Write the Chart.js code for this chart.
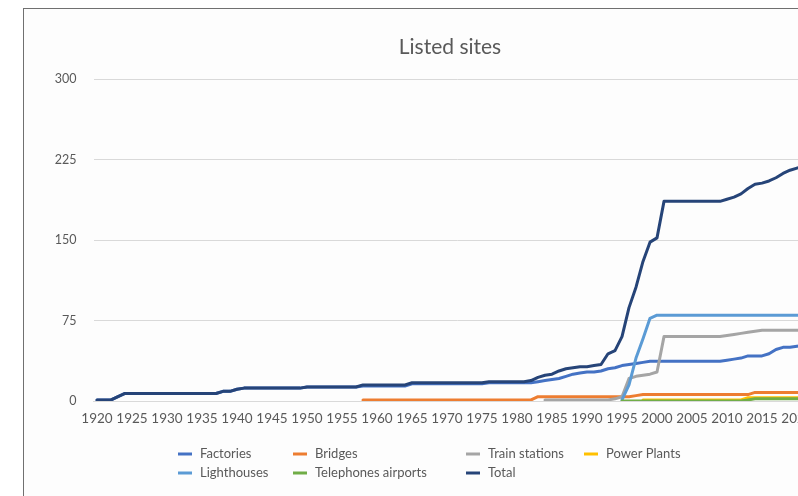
<!DOCTYPE html>
<html>
<head>
<meta charset="utf-8">
<title>Listed sites</title>
<script src="https://cdn.jsdelivr.net/npm/chart.js@4.4.0/dist/chart.umd.min.js"></script>
<style>
  html, body { margin: 0; padding: 0; background: #ffffff; width: 798px; height: 496px; overflow: hidden; }
  #frame { position: absolute; left: 23px; top: 8px; width: 852px; height: 520px;
           border: 1px solid #707070; background: #fdfdfd; }
  #chart { display: block; }
</style>
</head>
<body>
<div id="frame"><canvas id="chart" width="852" height="520"></canvas></div>
<script>
// ---- chart text ----
const chartTitle = 'Listed sites';
const yearTicks = [1920, 1925, 1930, 1935, 1940, 1945, 1950, 1955, 1960, 1965, 1970,
                   1975, 1980, 1985, 1990, 1995, 2000, 2005, 2010, 2015, 2020];
const valueTicks = [0, 75, 150, 225, 300];

// ---- cumulative number of listed sites per year (first year given with each list) ----
const factoriesFrom = 1920;
const factories = [
  1, 1, 1, 4, 7, 7, 7, 7, 7, 7,            // 1920-1929
  7, 7, 7, 7, 7, 7, 7, 7, 9, 9,            // 1930-1939
  11, 12, 12, 12, 12, 12, 12, 12, 12, 12,  // 1940-1949
  13, 13, 13, 13, 13, 13, 13, 13, 14, 14,  // 1950-1959
  14, 14, 14, 14, 14, 16, 16, 16, 16, 16,  // 1960-1969
  16, 16, 16, 16, 16, 16, 17, 17, 17, 17,  // 1970-1979
  17, 17, 17, 18, 19, 20, 21, 23, 25, 26,  // 1980-1989
  27, 27, 28, 30, 31, 33, 34, 35, 36, 37,  // 1990-1999
  37, 37, 37, 37, 37, 37, 37, 37, 37, 37,  // 2000-2009
  38, 39, 40, 42, 42, 42, 44, 48, 50, 50,  // 2010-2019
  51, 52                                   // 2020-2021
];

const bridgesFrom = 1958;
const bridges = [
  1, 1,                                    // 1958-1959
  1, 1, 1, 1, 1, 1, 1, 1, 1, 1,            // 1960-1969
  1, 1, 1, 1, 1, 1, 1, 1, 1, 1,            // 1970-1979
  1, 1, 1, 4, 4, 4, 4, 4, 4, 4,            // 1980-1989
  4, 4, 4, 4, 4, 4, 4, 5, 6, 6,            // 1990-1999
  6, 6, 6, 6, 6, 6, 6, 6, 6, 6,            // 2000-2009
  6, 6, 6, 6, 8, 8, 8, 8, 8, 8,            // 2010-2019
  8, 8                                     // 2020-2021
];

const trainStationsFrom = 1984;
const trainStations = [
  1, 1, 1, 1, 1, 1,                        // 1984-1989
  1, 1, 1, 1, 2, 4, 21, 23, 24, 25,        // 1990-1999
  27, 60, 60, 60, 60, 60, 60, 60, 60, 60,  // 2000-2009
  61, 62, 63, 64, 65, 66, 66, 66, 66, 66,  // 2010-2019
  66, 66                                   // 2020-2021
];

const powerPlantsFrom = 1998;
const powerPlants = [
  1, 1,                                    // 1998-1999
  1, 1, 1, 1, 1, 1, 1, 1, 1, 1,            // 2000-2009
  1, 1, 1, 3, 3, 3, 3, 3, 3, 3,            // 2010-2019
  3, 3                                     // 2020-2021
];

const lighthousesFrom = 1995;
const lighthouses = [
  1, 15, 40, 58, 77,                       // 1995-1999
  80, 80, 80, 80, 80, 80, 80, 80, 80, 80,  // 2000-2009
  80, 80, 80, 80, 80, 80, 80, 80, 80, 80,  // 2010-2019
  80, 80                                   // 2020-2021
];

const telephonesAirportsFrom = 1995;
const telephonesAirports = [
  0, 0, 0, 0, 0,                           // 1995-1999
  0, 0, 0, 0, 0, 0, 0, 0, 0, 0,            // 2000-2009
  0, 0, 0, 1, 2, 2, 2, 2, 2, 2,            // 2010-2019
  2, 2                                     // 2020-2021
];

const totalFrom = 1920;
const total = [
  1, 1, 1, 4, 7, 7, 7, 7, 7, 7,                   // 1920-1929
  7, 7, 7, 7, 7, 7, 7, 7, 9, 9,                   // 1930-1939
  11, 12, 12, 12, 12, 12, 12, 12, 12, 12,         // 1940-1949
  13, 13, 13, 13, 13, 13, 13, 13, 15, 15,         // 1950-1959
  15, 15, 15, 15, 15, 17, 17, 17, 17, 17,         // 1960-1969
  17, 17, 17, 17, 17, 17, 18, 18, 18, 18,         // 1970-1979
  18, 18, 19, 22, 24, 25, 28, 30, 31, 32,         // 1980-1989
  32, 33, 34, 44, 47, 60, 87, 106, 130, 148,      // 1990-1999
  152, 186, 186, 186, 186, 186, 186, 186, 186, 186, // 2000-2009
  188, 190, 193, 198, 202, 203, 205, 208, 212, 215, // 2010-2019
  217, 218                                        // 2020-2021
];

// ---- series definitions (legend order) ----
const seriesList = [
  { label: 'Factories',           from: factoriesFrom,          values: factories,          color: '#4472C4' },
  { label: 'Bridges',             from: bridgesFrom,            values: bridges,            color: '#ED7D31' },
  { label: 'Train stations',      from: trainStationsFrom,      values: trainStations,      color: '#A5A5A5' },
  { label: 'Power Plants',        from: powerPlantsFrom,        values: powerPlants,        color: '#FFC000' },
  { label: 'Lighthouses',         from: lighthousesFrom,        values: lighthouses,        color: '#5B9BD5' },
  { label: 'Telephones airports', from: telephonesAirportsFrom, values: telephonesAirports, color: '#70AD47' },
  { label: 'Total',               from: totalFrom,              values: total,              color: '#264478' }
];

const FONT = 'Lato, "Open Sans", "DejaVu Sans", sans-serif';
const TEXT_COLOR = '#595959';

const datasets = seriesList.map((s, i) => ({
  label: s.label,
  data: s.values.map((v, k) => ({ x: s.from + k, y: v })),
  borderColor: s.color,
  backgroundColor: s.color,
  borderWidth: 3,
  borderJoinStyle: 'round',
  borderCapStyle: 'round',
  pointRadius: 0,
  pointHoverRadius: 0,
  fill: false,
  tension: 0,
  order: seriesList.length - i   // later series painted over earlier ones
}));

// Title and a column-aligned two-row legend painted on the canvas.
const sheetDecor = {
  id: 'sheetDecor',
  afterDraw(chart) {
    const ctx = chart.ctx;
    ctx.save();
    ctx.fillStyle = TEXT_COLOR;
    ctx.font = '21px ' + FONT;
    ctx.textAlign = 'center';
    ctx.textBaseline = 'middle';
    ctx.fillText(chartTitle, 426, 38);

    const cols = [154, 269, 442, 560];
    const rows = [445, 464];
    ctx.font = '13px ' + FONT;
    ctx.textAlign = 'left';
    chart.data.datasets.forEach((ds, i) => {
      const x = cols[i % 4];
      const y = rows[Math.floor(i / 4)];
      ctx.strokeStyle = ds.borderColor;
      ctx.lineWidth = 3;
      ctx.lineCap = 'butt';
      ctx.beginPath();
      ctx.moveTo(x, y);
      ctx.lineTo(x + 14, y);
      ctx.stroke();
      ctx.fillStyle = TEXT_COLOR;
      ctx.fillText(ds.label, x + 22, y);
    });
    ctx.restore();
  }
};

new Chart(document.getElementById('chart'), {
  type: 'line',
  data: { datasets },
  plugins: [sheetDecor],
  options: {
    responsive: false,
    animation: false,
    events: [],
    layout: { padding: { top: 70, right: 54.5, bottom: 0, left: 0 } },
    plugins: {
      legend: { display: false },
      title: { display: false },
      tooltip: { enabled: false }
    },
    scales: {
      x: {
        type: 'linear',
        min: 1919.5,
        max: 2023.5,
        afterBuildTicks: (scale) => { scale.ticks = yearTicks.map(v => ({ value: v })); },
        afterFit: (scale) => { scale.height = 128; },
        ticks: {
          autoSkip: false,
          maxRotation: 0,
          padding: 10,
          color: TEXT_COLOR,
          font: { family: FONT, size: 13.5 },
          callback: (v) => String(v)
        },
        grid: { display: false, drawTicks: false },
        border: { display: true, color: '#d9d9d9', width: 1 }
      },
      y: {
        min: 0,
        max: 300,
        afterBuildTicks: (scale) => { scale.ticks = valueTicks.map(v => ({ value: v })); },
        afterFit: (scale) => { scale.width = 69.5; },
        ticks: {
          padding: 17,
          color: TEXT_COLOR,
          font: { family: FONT, size: 12.5 }
        },
        grid: { color: '#d9d9d9', lineWidth: 1, drawTicks: false },
        border: { display: false }
      }
    }
  }
});
</script>
</body>
</html>
